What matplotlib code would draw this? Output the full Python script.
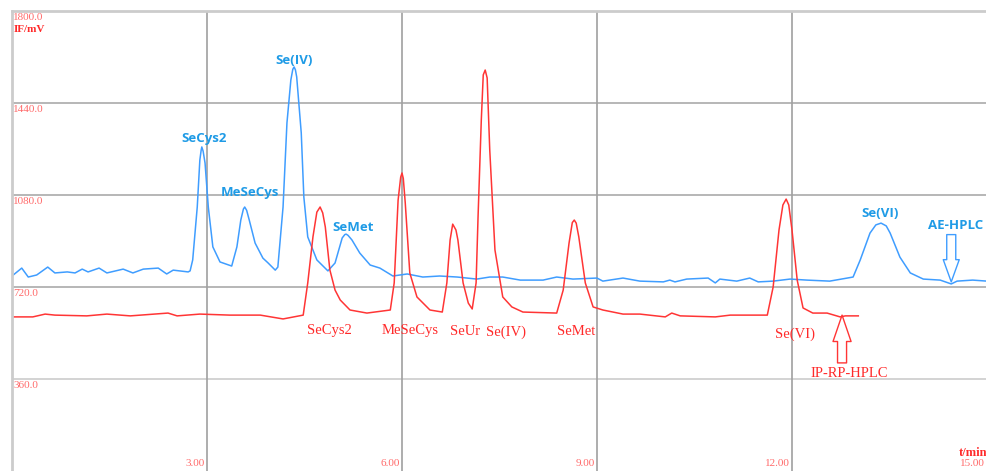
import matplotlib.pyplot as plt

# AE-HPLC trace (blue): retention time (min) and signal (mV)
ae_time = [0.00, 0.15, 0.25, 0.38, 0.55, 0.66, 0.85, 0.97, 1.08, 1.17, 1.34, 1.46,
           1.71, 1.86, 2.02, 2.25, 2.38, 2.48, 2.71, 2.74, 2.78, 2.85, 2.89, 2.91, 2.92,
           2.94, 2.97, 3.02, 3.09, 3.20, 3.38, 3.46, 3.52, 3.56, 3.58, 3.61, 3.65, 3.74,
           3.86, 3.94, 4.05, 4.09, 4.17, 4.23, 4.29, 4.32, 4.34, 4.36, 4.38, 4.45, 4.49,
           4.55, 4.69, 4.86, 4.97, 5.08, 5.12, 5.14, 5.17, 5.23, 5.35, 5.51, 5.66, 5.86,
           6.08, 6.32, 6.58, 6.85, 7.15, 7.35, 7.55, 7.82, 8.17, 8.38, 8.63, 9.00, 9.09,
           9.40, 9.66, 10.02, 10.12, 10.20, 10.38, 10.71, 10.82, 10.89, 11.15, 11.35,
           11.48, 11.71, 11.97, 12.23, 12.58, 12.85, 12.94, 13.05, 13.20, 13.29, 13.37,
           13.45, 13.51, 13.66, 13.82, 14.02, 14.28, 14.45, 14.54, 14.78, 15.00]
ae_signal = [763, 794, 759, 767, 798, 775, 779, 775, 790, 779, 794, 775,
             790, 775, 790, 794, 771, 786, 779, 783, 826, 1033, 1217, 1255, 1268,
             1252, 1205, 1033, 877, 818, 802, 877, 982, 1025, 1033, 1020, 982, 892,
             833, 814, 786, 798, 1033, 1362, 1530, 1572, 1581, 1570, 1542, 1323, 1072,
             916, 826, 783, 814, 912, 925, 927, 922, 904, 853, 806, 794, 763,
             771, 759, 763, 759, 751, 759, 759, 747, 747, 759, 751, 755, 743,
             755, 743, 740, 747, 740, 751, 755, 736, 751, 743, 755,
             740, 743, 751, 747, 743, 755, 759, 826, 931, 963, 970,
             959, 931, 837, 775, 751, 747, 732, 743, 747, 743]

# IP-RP-HPLC trace (red)
ip_time = [0.00, 0.32, 0.51, 0.66, 1.15, 1.46, 1.82, 2.40, 2.54, 2.89, 3.35, 3.82,
           4.17, 4.48, 4.55, 4.63, 4.69, 4.74, 4.78, 4.82, 4.89, 4.97, 5.05, 5.20,
           5.46, 5.82, 5.88, 5.94, 5.98, 6.00, 6.02, 6.05, 6.12, 6.23, 6.43, 6.62, 6.69,
           6.74, 6.78, 6.83, 6.86, 6.94, 7.02, 7.08, 7.14, 7.17, 7.22, 7.25, 7.28, 7.31,
           7.35, 7.43, 7.55, 7.69, 7.86, 8.38, 8.48, 8.57, 8.62, 8.65, 8.68, 8.72, 8.82,
           8.94, 9.09, 9.40, 9.66, 10.05, 10.15, 10.28, 10.82, 11.05, 11.62, 11.71, 11.80,
           11.86, 11.91, 11.95, 12.00, 12.08, 12.17, 12.32, 12.54, 12.74, 12.82, 13.02]
ip_signal = [603, 603, 614, 610, 607, 614, 607, 618, 607, 614, 610, 610,
             595, 610, 736, 916, 1013, 1033, 1010, 955, 787, 708, 669, 630,
             618, 630, 736, 1060, 1150, 1166, 1145, 1049, 775, 681, 630, 622, 736,
             904, 966, 943, 904, 736, 657, 634, 736, 994, 1373, 1550, 1569, 1538,
             1256, 865, 681, 642, 622, 618, 708, 892, 972, 982, 970, 916, 736,
             642, 630, 614, 614, 603, 618, 607, 603, 610, 610, 720, 943,
             1041, 1064, 1041, 943, 747, 638, 618, 618, 603, 607, 607]

# peak labels: (text, time, signal)
ae_labels = [("SeCys2", 2.95, 1303), ("MeSeCys", 3.66, 1088), ("Se(IV)", 4.34, 1608),
             ("SeMet", 5.25, 951), ("Se(VI)", 13.35, 1006), ("AE-HPLC", 14.52, 959)]
ip_labels = [("SeCys2", 4.88, 548), ("MeSeCys", 6.12, 548), ("SeUr", 6.97, 544),
             ("Se(IV)", 7.60, 544), ("SeMet", 8.68, 544), ("Se(VI)", 12.05, 536),
             ("IP-RP-HPLC", 12.88, 383)]

x_ticks = [3, 6, 9, 12, 15]
y_ticks = [360, 720, 1080, 1440, 1800]

blue = '#3f9dff'
blue_txt = '#1f9be6'
red = '#ff3535'
red_txt = '#ff2a2a'
tick_red = '#ff6a6a'

fig = plt.figure(figsize=(9.87, 4.71), dpi=100)
ax = fig.add_axes([12 / 987, 0, 975 / 987, 460 / 471])
ax.set_xlim(0, 15)
ax.set_ylim(0, 1800)

# grid
for y in y_ticks[:-1]:
    ax.axhline(y, color='#cccccc' if y == 360 else '#aaaaaa', lw=1.2, zorder=0)
for x in x_ticks:
    ax.axvline(x, color='#a0a0a0', lw=1.2, zorder=0)

ax.plot(ae_time, ae_signal, color=blue, lw=1.1)
ax.plot(ip_time, ip_signal, color=red, lw=1.1)

for s in ['right', 'bottom']:
    ax.spines[s].set_visible(False)
for s in ['left', 'top']:
    ax.spines[s].set_color('#cccccc')
    ax.spines[s].set_linewidth(2)
ax.set_xticks([])
ax.set_yticks([])

# tick labels
for y in y_ticks:
    ax.annotate(f"{y:.1f}", xy=(0, y), xytext=(0.8, -1.2), textcoords='offset points',
                ha='left', va='top', fontsize=8, family='Liberation Serif', color=tick_red)
for x in x_ticks:
    ax.annotate(f"{x:.2f}", xy=(x, 0), xytext=(-1.5, 2), textcoords='offset points',
                ha='right', va='bottom', fontsize=8, family='Liberation Serif', color=tick_red)
ax.text(0.03, 1728, "IF/mV", ha='left', va='center', fontsize=8, fontweight='bold',
        family='Liberation Serif', color=red_txt)
ax.text(15, 72, "t/min", ha='right', va='center', fontsize=9, fontweight='bold',
        family='Liberation Serif', color=red_txt)

for text, t, v in ae_labels:
    ax.text(t, v, text, ha='center', va='center', fontsize=9.5, fontweight='bold',
            family=['Open Sans', 'DejaVu Sans'], color=blue_txt)
for text, t, v in ip_labels:
    ax.text(t, v, text, ha='center', va='center', fontsize=10.5,
            family='Liberation Serif', color=red_txt)

# hollow arrows pointing at the end of each run
ax.annotate('', xy=(14.45, 740), xytext=(14.45, 925),
            arrowprops=dict(arrowstyle='simple,head_width=1.15,head_length=1.6,tail_width=0.65',
                            fc='white', ec=blue, lw=1, shrinkA=0, shrinkB=0))
ax.annotate('', xy=(12.77, 610), xytext=(12.77, 423),
            arrowprops=dict(arrowstyle='simple,head_width=1.3,head_length=1.9,tail_width=0.65',
                            fc='white', ec=red, lw=1, shrinkA=0, shrinkB=0))

fig.savefig('out.png', dpi=100)
